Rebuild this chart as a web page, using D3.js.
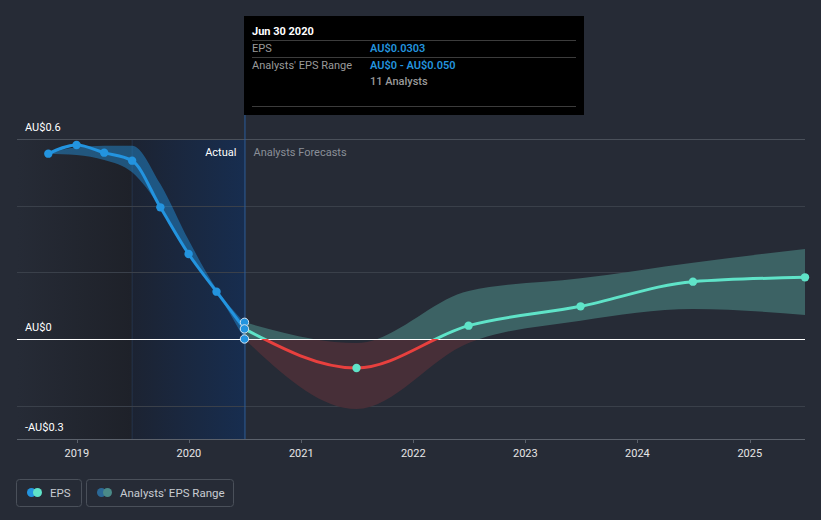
<!DOCTYPE html>
<html>
<head>
<meta charset="utf-8">
<script src="https://cdn.jsdelivr.net/npm/d3@7/dist/d3.min.js"></script>
<style>
  html, body { margin: 0; padding: 0; background: #262b36; }
  svg { display: block; font-family: Roboto, "Noto Sans", sans-serif; }
</style>
</head>
<body>
<svg id="chart" width="821" height="520"></svg>
<script>
// ---------------- data ----------------
const actualDates = ["2018-09-30", "2018-12-31", "2019-03-31", "2019-06-30", "2019-09-30", "2019-12-31", "2020-03-31", "2020-06-30"];
const actualEps   = [0.556, 0.582, 0.559, 0.535, 0.395, 0.255, 0.142, 0.0303];
const pastLow     = [0.556, 0.552, 0.537, 0.500, 0.395, 0.255, 0.142, 0.000];
const pastHigh    = [0.556, 0.575, 0.580, 0.580, 0.465, 0.297, 0.150, 0.050];

const forecastDates = ["2020-06-30", "2021-06-30", "2022-06-30", "2023-06-30", "2024-06-30", "2025-06-30"];
const forecastEps   = [0.0303, -0.087, 0.040, 0.098, 0.172, 0.185];
const forecastLow   = [0.000, -0.210, -0.012, 0.055, 0.090, 0.072];
const forecastHigh  = [0.050, -0.012, 0.144, 0.182, 0.229, 0.270];

const markerValues = [0.050, 0.0303, 0.000]; // Jun 30 2020 markers
const yLabelValues = [0.6, 0, -0.3];
const yLabelTexts  = ["AU$0.6", "AU$0", "-AU$0.3"];
const gridValues   = [0.6, 0.4, 0.2, -0.2];
const xTickYears   = [2019, 2020, 2021, 2022, 2023, 2024, 2025];

const tooltipTitle = "Jun 30 2020";
const tooltipRows = [
  ["EPS", "AU$0.0303"],
  ["Analysts' EPS Range", "AU$0 - AU$0.050"],
  ["", "11 Analysts"]
];
const legendItems = ["EPS", "Analysts' EPS Range"];

// ---------------- setup ----------------
const parse = d3.timeParse("%Y-%m-%d");
const svg = d3.select("#chart");

const x = d3.scaleTime()
  .domain([parse("2018-06-20"), parse("2025-06-30")])
  .range([17, 805]);
const y = d3.scaleLinear().domain([-0.3, 0.6]).range([439, 139]);

const past = actualDates.map((d, i) => ({ date: parse(d), v: actualEps[i], lo: pastLow[i], hi: pastHigh[i] }));
const fut  = forecastDates.map((d, i) => ({ date: parse(d), v: forecastEps[i], lo: forecastLow[i], hi: forecastHigh[i] }));
const nowDate = parse("2020-06-30");
const splitDate = parse("2019-06-30");

const defs = svg.append("defs");
const g1 = defs.append("linearGradient").attr("id", "darkGrad").attr("x1", 0).attr("x2", 1).attr("y1", 0).attr("y2", 0);
g1.append("stop").attr("offset", "0%").attr("stop-color", "#262b36");
g1.append("stop").attr("offset", "100%").attr("stop-color", "#1e2129");
const g2 = defs.append("linearGradient").attr("id", "blueGrad").attr("x1", 0).attr("x2", 1).attr("y1", 0).attr("y2", 0);
g2.append("stop").attr("offset", "0%").attr("stop-color", "#1c2332");
g2.append("stop").attr("offset", "100%").attr("stop-color", "#172d4f");

defs.append("clipPath").attr("id", "clipAbove").append("rect")
  .attr("x", 0).attr("y", 0).attr("width", 821).attr("height", y(0));
defs.append("clipPath").attr("id", "clipBelow").append("rect")
  .attr("x", 0).attr("y", y(0)).attr("width", 821).attr("height", 520 - y(0));

// background regions
svg.append("rect").attr("x", x.range()[0]).attr("y", y(0.6))
  .attr("width", x(splitDate) - x.range()[0]).attr("height", y(-0.3) - y(0.6))
  .attr("fill", "url(#darkGrad)");
svg.append("rect").attr("x", x(splitDate)).attr("y", y(0.6))
  .attr("width", x(nowDate) - x(splitDate)).attr("height", y(-0.3) - y(0.6))
  .attr("fill", "url(#blueGrad)");
svg.append("line").attr("x1", x(splitDate)).attr("x2", x(splitDate))
  .attr("y1", y(0.6)).attr("y2", y(-0.3))
  .attr("stroke", "#2a4468").attr("stroke-opacity", 0.5);

// grid lines
svg.append("g").selectAll("line").data(gridValues).join("line")
  .attr("x1", 17).attr("x2", 805)
  .attr("y1", d => Math.round(y(d)) + 0.5).attr("y2", d => Math.round(y(d)) + 0.5)
  .attr("stroke", d => d === 0.6 ? "#4a505a" : "#3a404a")
  .attr("stroke-width", 1);

// vertical "now" line
svg.append("line").attr("x1", x(nowDate) + 0.5).attr("x2", x(nowDate) + 0.5)
  .attr("y1", 115).attr("y2", y(-0.3))
  .attr("stroke", "#2a5c9c").attr("stroke-width", 1);

// bands
const area = d3.area().curve(d3.curveMonotoneX)
  .x(d => x(d.date)).y0(d => y(d.lo)).y1(d => y(d.hi));

svg.append("path").datum(past).attr("d", area)
  .attr("fill", "#2394df").attr("fill-opacity", 0.45);

svg.append("path").datum(fut).attr("d", area)
  .attr("clip-path", "url(#clipAbove)")
  .attr("fill", "#3c6264");
svg.append("path").datum(fut).attr("d", area)
  .attr("clip-path", "url(#clipBelow)")
  .attr("fill", "#472f38");

// zero line
svg.append("line").attr("x1", 17).attr("x2", 805)
  .attr("y1", Math.round(y(0)) + 0.5).attr("y2", Math.round(y(0)) + 0.5)
  .attr("stroke", "#ffffff").attr("stroke-width", 1.2);

// lines
const line = d3.line().curve(d3.curveMonotoneX).x(d => x(d.date)).y(d => y(d.v));
svg.append("path").datum(past).attr("d", line)
  .attr("fill", "none").attr("stroke", "#2394df").attr("stroke-width", 3);
svg.append("path").datum(fut).attr("d", line)
  .attr("clip-path", "url(#clipAbove)")
  .attr("fill", "none").attr("stroke", "#5fe3c8").attr("stroke-width", 3);
svg.append("path").datum(fut).attr("d", line)
  .attr("clip-path", "url(#clipBelow)")
  .attr("fill", "none").attr("stroke", "#e8403e").attr("stroke-width", 3);

// points
svg.append("g").selectAll("circle").data(past.slice(0, -1)).join("circle")
  .attr("cx", d => x(d.date)).attr("cy", d => y(d.v)).attr("r", 4.2)
  .attr("fill", "#2394df");
svg.append("g").selectAll("circle").data(fut.slice(1)).join("circle")
  .attr("cx", d => x(d.date)).attr("cy", d => y(d.v)).attr("r", 4.2)
  .attr("fill", "#5fe3c8");
svg.append("g").selectAll("circle").data(markerValues).join("circle")
  .attr("cx", x(nowDate)).attr("cy", d => y(d)).attr("r", 4.2)
  .attr("fill", "#2394df").attr("stroke", "#d8e4f0").attr("stroke-width", 1);

// x axis
const xAxis = svg.append("g").attr("transform", `translate(0,${y(-0.3)})`);
xAxis.append("line").attr("x1", 17).attr("x2", 805).attr("y1", 0.5).attr("y2", 0.5)
  .attr("stroke", "#5b616b");
const ticks = xTickYears.map(yr => new Date(yr, 0, 1));
xAxis.selectAll("line.tick").data(ticks).join("line").attr("class", "tick")
  .attr("x1", d => Math.round(x(d)) + 0.5).attr("x2", d => Math.round(x(d)) + 0.5)
  .attr("y1", 0).attr("y2", 4).attr("stroke", "#5b616b");
xAxis.selectAll("text").data(ticks).join("text")
  .attr("x", d => x(d)).attr("y", 18)
  .attr("text-anchor", "middle").attr("fill", "#e6e6e6")
  .attr("font-size", 11).text(d => d.getFullYear());

// y labels
svg.append("g").selectAll("text").data(yLabelValues).join("text")
  .attr("x", 25).attr("y", d => y(d) - 8)
  .attr("fill", "#ffffff").attr("font-size", 11)
  .text((d, i) => yLabelTexts[i]);

// Actual / Forecast labels
svg.append("text").attr("x", x(nowDate) - 8).attr("y", 155.5)
  .attr("text-anchor", "end").attr("fill", "#ffffff").attr("font-size", 11).text("Actual");
svg.append("text").attr("x", x(nowDate) + 9).attr("y", 155.5)
  .attr("fill", "#8a8f98").attr("font-size", 11).text("Analysts Forecasts");

// tooltip
const tt = svg.append("g");
tt.append("rect").attr("x", 244).attr("y", 16).attr("width", 340).attr("height", 99).attr("fill", "#000000");
tt.append("text").attr("x", 252).attr("y", 35).attr("fill", "#ffffff")
  .attr("font-size", 11).attr("font-weight", "bold").text(tooltipTitle);
[40.5, 57.5, 106.5].forEach(yy => {
  tt.append("line").attr("x1", 252).attr("x2", 576).attr("y1", yy).attr("y2", yy)
    .attr("stroke", "#3c3c3c");
});
const rowY = [52, 68.5, 84.5];
tooltipRows.forEach((r, i) => {
  if (r[0]) tt.append("text").attr("x", 252).attr("y", rowY[i]).attr("fill", "#9a9a9a")
    .attr("font-size", 11).text(r[0]);
  tt.append("text").attr("x", 370).attr("y", rowY[i])
    .attr("fill", i < 2 ? "#2394df" : "#9a9a9a")
    .attr("font-weight", i < 2 ? 600 : 500)
    .attr("font-size", 11).text(r[1]);
});

// legend
const lg = svg.append("g");
const boxes = [{ x: 16.5, w: 65 }, { x: 86.5, w: 147 }];
const dotColors = [["#2394df", "#5fe3c8"], ["#2b6896", "#4a8a88"]];
legendItems.forEach((t, i) => {
  lg.append("rect").attr("x", boxes[i].x).attr("y", 479.5).attr("width", boxes[i].w).attr("height", 27)
    .attr("rx", 3).attr("fill", "none").attr("stroke", "#4a505a");
  lg.append("circle").attr("cx", boxes[i].x + 15).attr("cy", 492.5).attr("r", 4.5).attr("fill", dotColors[i][0]);
  lg.append("circle").attr("cx", boxes[i].x + 21).attr("cy", 492.5).attr("r", 4.5).attr("fill", dotColors[i][1]);
  lg.append("text").attr("x", boxes[i].x + 33.5).attr("y", 496.5).attr("fill", "#c8ccd2")
    .attr("font-size", 11.5).text(t);
});
</script>
</body>
</html>
